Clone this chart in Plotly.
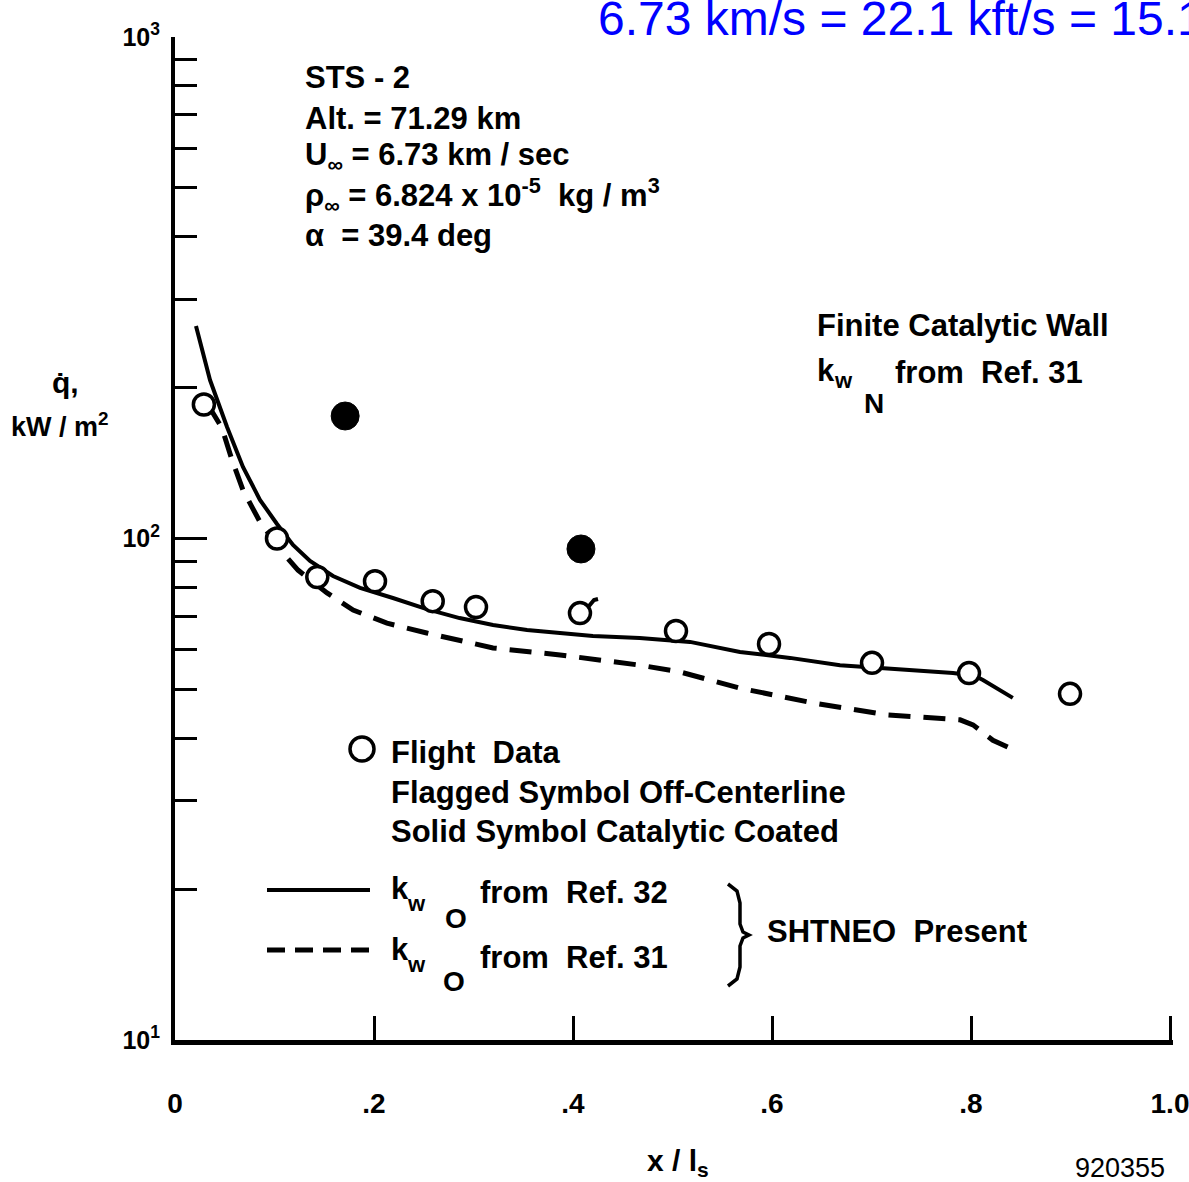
import plotly.graph_objects as go

# ---------------- data ----------------
x_ref32 = [0.0211, 0.0352, 0.0523, 0.0683, 0.0854, 0.1025, 0.1186, 0.1357, 0.1588, 0.186,
           0.219, 0.253, 0.286, 0.3196, 0.3538, 0.387, 0.420, 0.467, 0.5176, 0.5678,
           0.618, 0.6683, 0.7357, 0.7819, 0.804, 0.812, 0.842]
q_ref32 = [265.3, 207, 166.9, 138.9, 119.4, 106.9, 97.1, 90.2, 84.2, 79.7,
           76.1, 72.3, 69.4, 67.2, 65.7, 64.8, 63.9, 63.3, 62.2, 59.4,
           57.8, 55.9, 54.7, 53.9, 53.2, 52.2, 48.1]

x_ref31 = [0.0332, 0.0472, 0.0573, 0.0683, 0.0854, 0.1085, 0.1236, 0.1528, 0.179, 0.213,
           0.253, 0.3196, 0.387, 0.4673, 0.5075, 0.5678, 0.6412, 0.7156, 0.789, 0.802,
           0.822, 0.839]
q_ref31 = [184.6, 166.1, 143.4, 124.9, 107.9, 93.6, 86.5, 77.9, 72.0, 67.8,
           64.8, 60.5, 58.6, 55.9, 54.2, 50.3, 47.0, 44.5, 43.5, 42.5,
           39.6, 38.2]

x_flight = [0.029, 0.1025, 0.143, 0.201, 0.259, 0.3025, 0.407, 0.5035, 0.597, 0.7005, 0.798, 0.8995]
q_flight = [185, 100, 83.8, 82.2, 75, 73, 71, 65.4, 61.6, 56.5, 53.9, 49.0]

x_coated = [0.171, 0.408]
q_coated = [175.5, 95.3]

x_ticks = [0, 0.2, 0.4, 0.6, 0.8, 1.0]
x_ticktext = ["0", ".2", ".4", ".6", ".8", "1.0"]
y_ticks = [10, 100, 1000]
y_ticktext = ["10<sup>1</sup>", "10<sup>2</sup>", "10<sup>3</sup>"]
y_minor = [20, 30, 40, 50, 60, 70, 80, 90, 200, 300, 400, 500, 600, 700, 800, 900]

# ---------------- layout helpers ----------------
W, H = 1189, 1182
L, R, T, B = 175, 16, 37, 142
PW, PH = W - L - R, H - T - B
X_MAX = 1.003


def px(xp, yp):
    return (xp - L) / PW, (H - B - yp) / PH


FONT = "Liberation Sans, Arial, sans-serif"
BLACK = "#000000"

fig = go.Figure()

fig.add_trace(go.Scatter(x=x_ref32, y=q_ref32, mode="lines",
                         line=dict(color=BLACK, width=4), showlegend=False))
fig.add_trace(go.Scatter(x=x_ref31, y=q_ref31, mode="lines",
                         line=dict(color=BLACK, width=5, dash="22px,13px"), showlegend=False))
fig.add_trace(go.Scatter(x=x_flight, y=q_flight, mode="markers",
                         marker=dict(symbol="circle", size=21, color="white",
                                     line=dict(color=BLACK, width=3.5)),
                         cliponaxis=False, showlegend=False))
fig.add_trace(go.Scatter(x=x_coated, y=q_coated, mode="markers",
                         marker=dict(symbol="circle", size=28, color=BLACK,
                                     line=dict(color=BLACK, width=1)),
                         cliponaxis=False, showlegend=False))

shapes = []
# flag on the off-centerline symbol
flag = [(589, 606), (594, 600), (598, 599)]
fpath = "M " + " L ".join("{:.5f},{:.5f}".format(*px(a, b)) for a, b in flag)
shapes.append(dict(type="path", xref="paper", yref="paper", path=fpath,
                   line=dict(color=BLACK, width=4)))
# legend open circle
cx0, cy0 = px(350, 737)
cx1, cy1 = px(374, 761)
shapes.append(dict(type="circle", xref="paper", yref="paper", x0=cx0, y0=cy0, x1=cx1, y1=cy1,
                   line=dict(color=BLACK, width=3.5), fillcolor="white"))
# legend line samples
a0, b0 = px(267, 890)
a1, b1 = px(370, 890)
shapes.append(dict(type="line", xref="paper", yref="paper", x0=a0, y0=b0, x1=a1, y1=b1,
                   line=dict(color=BLACK, width=4)))
a0, b0 = px(267, 950)
a1, b1 = px(370, 950)
shapes.append(dict(type="line", xref="paper", yref="paper", x0=a0, y0=b0, x1=a1, y1=b1,
                   line=dict(color=BLACK, width=5, dash="18px,10px")))
# brace
pts = [(728, 884), (737, 891), (740, 903), (740, 924), (743, 932), (749, 935),
       (743, 938), (740, 946), (740, 967), (737, 979), (728, 986)]
path = "M " + " L ".join("{:.5f},{:.5f}".format(*px(a, b)) for a, b in pts)
shapes.append(dict(type="path", xref="paper", yref="paper", path=path,
                   line=dict(color=BLACK, width=3.5)))

annotations = []


def txt(text, xp, yp, size=31, anchor="left", family=FONT, weight="bold", color=BLACK, valign="middle"):
    xa, ya = px(xp, yp)
    annotations.append(dict(text=text, x=xa, y=ya, xref="paper", yref="paper",
                            xanchor=anchor, yanchor=valign, showarrow=False,
                            font=dict(family=family, size=size, color=color, weight=weight)))


# conditions block
txt("STS - 2", 303, 78)
txt("Alt. = 71.29 km", 303, 118)
txt("U<sub>∞</sub> = 6.73 km / sec", 303, 157)
txt("ρ<sub>∞</sub> = 6.824 x 10<sup>-5</sup>  kg / m<sup>3</sup>", 303, 196)
txt("α  = 39.4 deg", 303, 236)

# finite catalytic wall note
txt("Finite Catalytic Wall", 815, 325)
txt("k", 815, 370)
txt("w", 832, 381, size=22)
txt("N", 862, 404, size=28)
txt("from  Ref. 31", 893, 372)

# legend text
txt("Flight  Data", 389, 752)
txt("Flagged Symbol Off-Centerline", 389, 792)
txt("Solid Symbol Catalytic Coated", 389, 831)
txt("k", 389, 888)
txt("w", 405, 903, size=22)
txt("O", 443, 918, size=28)
txt("from  Ref. 32", 478, 892)
txt("k", 389, 949)
txt("w", 405, 964, size=22)
txt("O", 441, 981, size=28)
txt("from  Ref. 31", 478, 957)
txt("SHTNEO  Present", 765, 931)

# axis titles
txt("q̇,", 65, 382, size=30, anchor="center")
txt("kW / m<sup>2</sup>", 60, 425, size=27, anchor="center")
txt("x / l<sub>s</sub>", 678, 1162, size=30, anchor="center")
txt("920355", 1120, 1168, size=27, anchor="center", weight="normal")

# blue header
txt("6.73 km/s = 22.1 kft/s = 15.1", 596, 18, size=48, weight="normal", color="#0000ff")

fig.update_layout(
    width=W, height=H,
    margin=dict(l=L, r=R, t=T, b=B, pad=0, autoexpand=False),
    paper_bgcolor="white", plot_bgcolor="white",
    showlegend=False,
    shapes=shapes,
    annotations=annotations,
    xaxis=dict(range=[0, X_MAX], tickvals=x_ticks, ticktext=x_ticktext, automargin=False,
               ticks="inside", ticklen=24, tickwidth=3, tickcolor=BLACK,
               showline=True, linewidth=5, linecolor=BLACK, mirror=False,
               showgrid=False, zeroline=False, ticklabelstandoff=34,
               ticklabeloverflow="allow",
               tickfont=dict(family=FONT, size=28, color=BLACK, weight="bold")),
    yaxis=dict(type="log", range=[1, 3], tickvals=y_ticks, ticktext=y_ticktext, automargin=False,
               ticks="inside", ticklen=32, tickwidth=3, tickcolor=BLACK,
               showline=True, linewidth=4, linecolor=BLACK, mirror=False,
               showgrid=False, zeroline=False, ticklabelstandoff=6,
               tickfont=dict(family=FONT, size=25, color=BLACK, weight="bold"),
               minor=dict(tickvals=y_minor, ticks="inside", ticklen=22, tickwidth=3,
                          tickcolor=BLACK, showgrid=False)),
)

fig.write_html("out.html")
